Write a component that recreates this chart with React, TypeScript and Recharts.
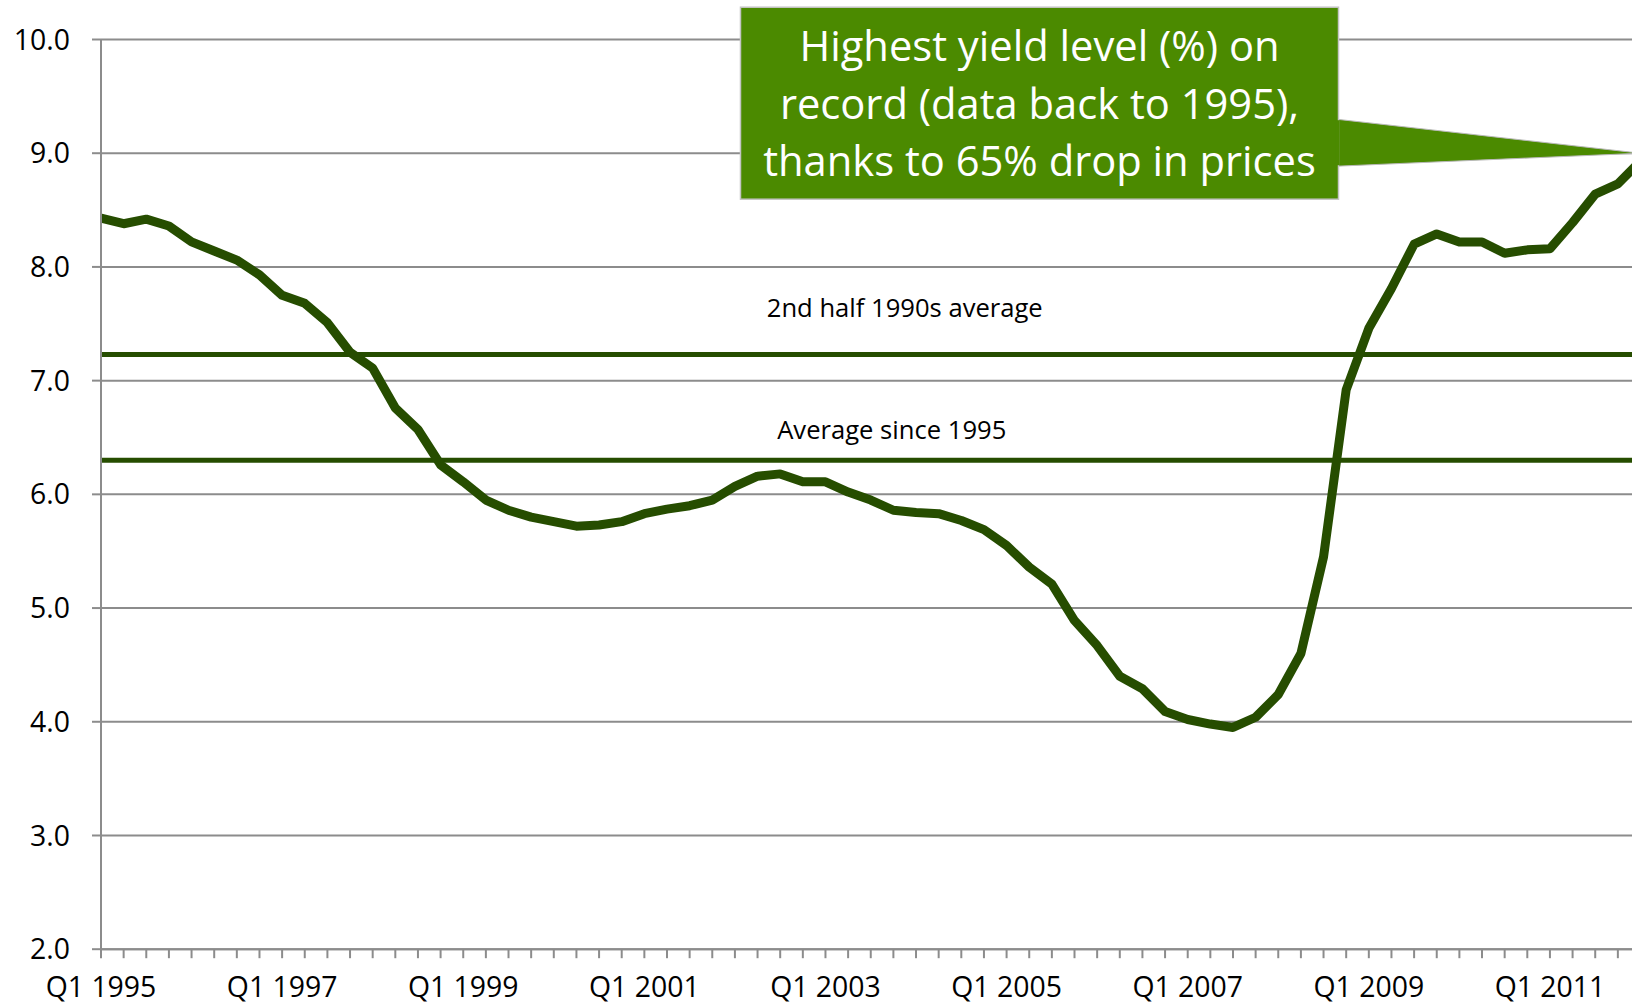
import React from "react";
import {
  LineChart,
  Line,
  XAxis,
  YAxis,
  CartesianGrid,
  ReferenceLine,
  ReferenceDot,
} from "recharts";

const years = [
  1995, 1996, 1997, 1998, 1999, 2000, 2001, 2002, 2003, 2004, 2005, 2006,
  2007, 2008, 2009, 2010, 2011, 2012,
];
const quarterNames = ["Q1", "Q2", "Q3", "Q4"];

// Q1 1995 .. Q1 2012
const quarters: string[] = years
  .flatMap((y) => quarterNames.map((q) => `${q} ${y}`))
  .slice(0, 69);

const yieldPct = [
  8.43, 8.38, 8.42, 8.36, 8.22, 8.14, 8.06, 7.93, 7.75, 7.68,
  7.51, 7.25, 7.11, 6.76, 6.57, 6.26, 6.11, 5.95, 5.86, 5.8,
  5.76, 5.72, 5.73, 5.76, 5.83, 5.87, 5.9, 5.95, 6.07, 6.16,
  6.18, 6.11, 6.11, 6.02, 5.95, 5.86, 5.84, 5.83, 5.77, 5.69,
  5.55, 5.36, 5.21, 4.89, 4.67, 4.4, 4.29, 4.09, 4.02, 3.98,
  3.95, 4.04, 4.24, 4.6, 5.45, 6.92, 7.46, 7.81, 8.2, 8.29,
  8.22, 8.22, 8.12, 8.15, 8.16, 8.39, 8.64, 8.73, 8.93,
];

const yTicks = [2, 3, 4, 5, 6, 7, 8, 9, 10];

const avg1990s = 7.23;
const avgSince1995 = 6.3;
const recordLevel = 9.0;

const avg1990sLabel = "2nd half 1990s average";
const avgSince1995Label = "Average since 1995";
const calloutLines = [
  "Highest yield level (%) on",
  "record (data back to 1995),",
  "thanks to 65% drop in prices",
];

const data = quarters.map((q, i) => ({ quarter: q, yield: yieldPct[i] }));

const FONT = "'Open Sans', sans-serif";
const GRID = "#8c8c8c";
const LINE_GREEN = "#264d00";
const BOX_GREEN = "#4b8a00";

// label only every 8th quarter, tick marks on all
function XTick(props: any) {
  const { x, y, payload } = props;
  const i = quarters.indexOf(payload.value);
  if (i % 8 !== 0) return null;
  return (
    <text
      x={x}
      y={y}
      dy={37}
      textAnchor="middle"
      fontSize={28.4}
      fontFamily={FONT}
      fill="#000"
    >
      {payload.value}
    </text>
  );
}

// green box with a pointer whose tip sits on the record level
function Callout(props: any) {
  const { cx, cy } = props;
  if (cx == null || cy == null) return null;
  const left = cx - 900;
  const right = cx - 302;
  const top = cy - 146;
  const bottom = cy + 46;
  const mid = (left + right) / 2;
  return (
    <g>
      <polygon
        points={`${right - 2},${cy - 34} ${cx},${cy} ${right - 2},${cy + 13}`}
        fill={BOX_GREEN}
        stroke="#b9b9b9"
        strokeWidth={1}
      />
      <rect
        x={left}
        y={top}
        width={right - left}
        height={bottom - top}
        fill={BOX_GREEN}
        stroke="#c4c4c4"
        strokeWidth={1.5}
      />
      <rect x={right - 3} y={cy - 33} width={4} height={45} fill={BOX_GREEN} />
      {calloutLines.map((t, k) => (
        <text
          key={k}
          x={mid}
          y={top + 54 + k * 57.5}
          textAnchor="middle"
          fontSize={41.7}
          fontFamily={FONT}
          fill="#fff"
        >
          {t}
        </text>
      ))}
    </g>
  );
}

function AvgLabel(text: string, dx: number, dy: number) {
  return (props: any) => {
    const vb = props.viewBox || {};
    const cx = vb.x + vb.width / 2 + dx;
    return (
      <text
        x={cx}
        y={vb.y + dy}
        textAnchor="middle"
        fontSize={25.6}
        fontFamily={FONT}
        fill="#000"
      >
        {text}
      </text>
    );
  };
}

export default function App() {
  return (
    <div
      style={{
        position: "absolute",
        left: 0,
        top: 0,
        width: 1632,
        height: 1007,
        overflow: "hidden",
        background: "#fff",
      }}
    >
      <LineChart
        width={1660}
        height={1007}
        data={data}
        margin={{ top: 39.5, right: 19.5, bottom: 0, left: 0 }}
      >
        <CartesianGrid
          vertical={false}
          stroke={GRID}
          strokeWidth={2}
          horizontalValues={yTicks}
        />
        <XAxis
          dataKey="quarter"
          interval={0}
          height={57.8}
          tickSize={9}
          tickLine={{ stroke: GRID, strokeWidth: 2 }}
          axisLine={{ stroke: GRID, strokeWidth: 2 }}
          tick={<XTick />}
        />
        <YAxis
          type="number"
          domain={[2, 10]}
          ticks={yTicks}
          width={101}
          tickSize={9}
          tickMargin={22}
          tickLine={{ stroke: GRID, strokeWidth: 2 }}
          axisLine={{ stroke: GRID, strokeWidth: 2 }}
          tick={{ fill: "#000", fontSize: 28.4, fontFamily: FONT }}
          tickFormatter={(v: number) => v.toFixed(1)}
        />
        <ReferenceLine
          y={avg1990s}
          stroke={LINE_GREEN}
          strokeWidth={5}
          label={AvgLabel(avg1990sLabel, 34, -37)}
        />
        <ReferenceLine
          y={avgSince1995}
          stroke={LINE_GREEN}
          strokeWidth={5}
          label={AvgLabel(avgSince1995Label, 21, -21)}
        />
        <Line
          type="linear"
          dataKey="yield"
          stroke={LINE_GREEN}
          strokeWidth={9}
          strokeLinejoin="round"
          dot={false}
          activeDot={false}
          isAnimationActive={false}
        />
        <ReferenceDot
          x={quarters[quarters.length - 1]}
          y={recordLevel}
          r={0}
          shape={<Callout />}
        />
      </LineChart>
    </div>
  );
}
